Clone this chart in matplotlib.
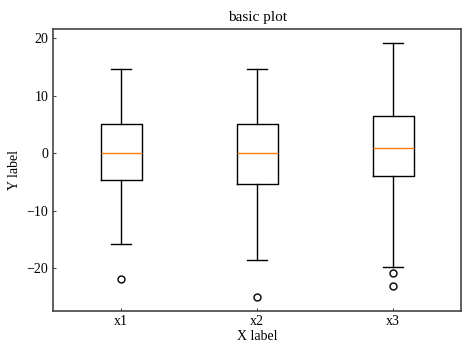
import matplotlib
matplotlib.use("Agg")
import matplotlib.pyplot as plt

plt.rcParams['font.family'] = ['Liberation Serif', 'DejaVu Serif']
plt.rcParams['xtick.direction'] = 'in'
plt.rcParams['ytick.direction'] = 'in'

labels = ["x1", "x2", "x3"]
medians = [0.0, -0.05, 0.92]
q1 = [-4.64, -5.28, -3.95]
q3 = [5.04, 5.15, 6.54]
whislo = [-15.83, -18.6, -19.78]
whishi = [14.66, 14.66, 19.18]
fliers = [[-21.86], [-25.05], [-20.87, -23.2]]

stats = []
for i, lab in enumerate(labels):
    stats.append(dict(label=lab, med=medians[i], q1=q1[i], q3=q3[i],
                      whislo=whislo[i], whishi=whishi[i], fliers=fliers[i]))

fig = plt.figure(figsize=(4.74, 3.55), dpi=100)
ax = fig.add_axes([0.112, 0.125, 0.861, 0.7925])
ax.bxp(stats, flierprops=dict(marker='o', markersize=5, markerfacecolor='none',
                              markeredgecolor='black', markeredgewidth=1.0))
ax.set_ylim(-27.4, 21.57)
ax.set_title("basic plot", fontsize=11)
ax.set_xlabel("X label", fontsize=10, labelpad=1)
ax.set_ylabel("Y label", fontsize=10)
ax.tick_params(labelsize=10, length=2.5, color='#444444')
for s in ax.spines.values():
    s.set_color('#444444')
    s.set_linewidth(1.2)
fig.savefig("out.png", dpi=100)
